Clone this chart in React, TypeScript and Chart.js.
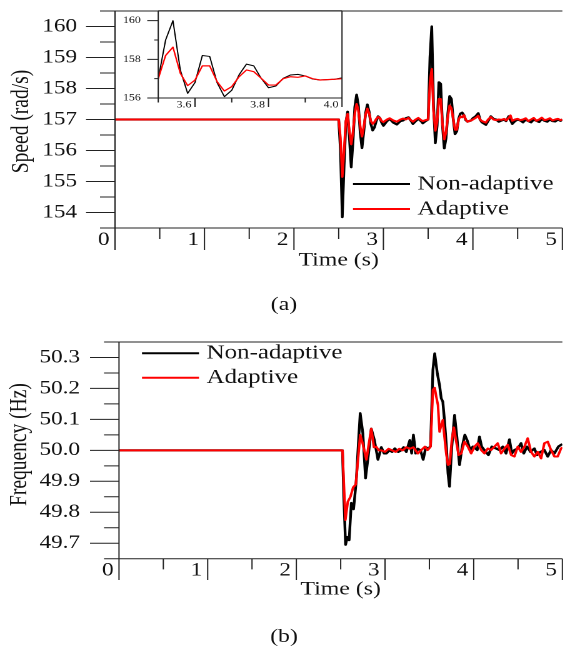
import React, { useEffect, useRef } from 'react';
import { Chart, registerables } from 'chart.js';

Chart.register(...registerables);

const FONT = "'Liberation Serif', 'Times New Roman', serif";
const STRETCH_X = 1.25;

// ---------- (a) Speed ----------
const speedTime = [
  0, 2.5, 2.52, 2.54, 2.56, 2.58, 2.6, 2.62, 2.64, 2.66, 2.68, 2.7, 2.72, 2.74, 2.76, 2.78, 2.8, 2.82, 2.84, 2.86,
  2.88, 2.9, 2.92, 2.94, 2.96, 2.98, 3.0, 3.04, 3.07, 3.11, 3.15, 3.19, 3.22, 3.25, 3.28, 3.31, 3.33, 3.36, 3.39,
  3.42, 3.44, 3.47, 3.5, 3.52, 3.54, 3.56, 3.58, 3.6, 3.62, 3.64, 3.66, 3.68, 3.7, 3.72, 3.74, 3.76, 3.78, 3.8,
  3.82, 3.84, 3.86, 3.88, 3.9, 3.92, 3.94, 3.96, 3.98, 4.0, 4.03, 4.06, 4.08, 4.1, 4.145, 4.17, 4.2, 4.23, 4.26,
  4.29, 4.32, 4.35, 4.37, 4.4, 4.42, 4.44, 4.47, 4.5, 4.53, 4.56, 4.59, 4.62, 4.65, 4.68, 4.71, 4.74, 4.77, 4.8,
  4.83, 4.86, 4.89, 4.92, 4.95, 4.98, 5.0,
];
const speedNonAdaptive = [
  157, 157, 156.0, 153.85, 155.5, 156.9, 157.25, 156.4, 155.46, 156.3, 157.4, 157.8, 157.45, 156.6, 156.08, 156.6,
  157.2, 157.48, 157.25, 156.85, 156.65, 156.75, 156.95, 157.1, 157.05, 156.9, 156.8, 156.95, 157.02, 156.9, 156.84,
  156.95, 156.97, 157.04, 157.07, 156.95, 156.86, 156.95, 157.02, 156.95, 156.88, 156.95, 157.0, 159.0, 160.0,
  157.45, 156.24, 156.8, 158.2, 158.15, 156.8, 156.07, 156.4, 157.2, 157.75, 157.66, 157.02, 156.53, 156.62, 157.02,
  157.19, 157.22, 157.14, 156.98, 156.93, 156.95, 156.97, 157.04, 157.1, 157.2, 157.0, 156.91, 156.83, 156.95, 157.1,
  157.02, 157.0, 156.93, 156.97, 157.0, 156.95, 157.1, 156.98, 156.86, 156.95, 157.0, 156.97, 156.91, 157.0, 156.95,
  156.91, 157.0, 156.96, 156.92, 157.02, 156.96, 156.93, 157.0, 156.95, 156.94, 157.0, 156.96, 157.0,
];
const speedAdaptive = [
  157, 157, 156.4, 155.15, 156.0, 156.95, 157.18, 156.6, 156.2, 156.6, 157.2, 157.5, 157.3, 156.8, 156.45, 156.75,
  157.15, 157.35, 157.2, 156.95, 156.86, 156.92, 157.02, 157.08, 157.05, 156.95, 156.92, 157.0, 157.04, 156.97,
  156.93, 157.0, 157.03, 157.0, 157.05, 156.97, 156.93, 157.0, 157.05, 156.98, 156.95, 156.98, 157.0, 158.2, 158.63,
  157.28, 156.64, 156.93, 157.66, 157.66, 156.85, 156.36, 156.59, 157.1, 157.45, 157.36, 157.02, 156.67, 156.67,
  157.0, 157.1, 157.07, 157.14, 157.0, 156.93, 156.95, 156.97, 157.0, 157.05, 157.12, 157.0, 156.95, 156.9, 157.0,
  157.08, 157.0, 156.98, 157.0, 156.99, 157.02, 156.97, 157.05, 157.13, 156.96, 157.0, 157.02, 156.98, 157.0, 157.04,
  156.95, 157.0, 157.05, 156.96, 157.0, 157.06, 156.98, 157.0, 157.04, 156.97, 157.0, 157.02, 156.98, 157.0,
];
const speedTicks = [154, 155, 156, 157, 158, 159, 160];
const speedMinorTicks = [153.5, 154.5, 155.5, 156.5, 157.5, 158.5, 159.5, 160.5];
const timeTicks = [0, 1, 2, 3, 4, 5];
const timeMinorTicks = [0.5, 1.5, 2.5, 3.5, 4.5];

// inset of (a)
const insetSpeedTicks = [156, 158, 160];
const insetSpeedMinorTicks = [157, 159];
const insetTimeTicks = [3.6, 3.8, 4.0];
const insetTimeMinorTicks = [3.5, 3.7, 3.9];

// ---------- (b) Frequency ----------
const freqTimeNonAdaptive = [
  0, 2.5, 2.52, 2.535, 2.555, 2.575, 2.595, 2.62, 2.645, 2.675, 2.695, 2.72, 2.75, 2.78, 2.81, 2.845, 2.88, 2.92,
  2.958, 2.99, 3.015, 3.05, 3.08, 3.11, 3.15, 3.18, 3.21, 3.24, 3.28, 3.3, 3.32, 3.345, 3.37, 3.4, 3.43, 3.46, 3.49,
  3.513, 3.54, 3.56, 3.59, 3.615, 3.634, 3.652, 3.67, 3.69, 3.71, 3.727, 3.753, 3.784, 3.81, 3.84, 3.87, 3.9, 3.93,
  3.96, 3.99, 4.02, 4.04, 4.065, 4.09, 4.12, 4.166, 4.204, 4.253, 4.29, 4.328, 4.365, 4.403, 4.43, 4.459, 4.497,
  4.534, 4.564, 4.602, 4.64, 4.684, 4.714, 4.752, 4.797, 4.835, 4.872, 4.91, 4.955, 4.985, 5.0,
];
const freqNonAdaptive = [
  50.0, 50.0, 50.0, 49.85, 49.695, 49.72, 49.71, 49.83, 49.81, 49.9, 50.0, 50.12, 50.055, 49.91, 49.98, 50.07,
  50.033, 49.97, 50.01, 49.99, 49.99, 50.0, 49.995, 50.006, 49.995, 50.0, 50.01, 49.995, 50.033, 49.99, 50.05,
  49.99, 50.005, 50.0, 49.97, 50.01, 50.005, 50.014, 50.26, 50.313, 50.248, 50.21, 50.168, 50.157, 50.098, 50.023,
  49.926, 49.883, 50.012, 50.114, 50.044, 49.953, 50.012, 50.05, 50.03, 50.0, 50.012, 50.006, 50.001, 50.044,
  50.012, 50.001, 49.985, 50.012, 50.006, 50.001, 50.012, 49.99, 50.035, 49.99, 50.001, 50.006, 50.023, 49.99,
  50.012, 49.995, 50.006, 49.985, 49.995, 50.001, 49.98, 50.001, 49.99, 50.012, 50.018, 50.02,
];
const freqTimeAdaptive = [
  0, 2.52, 2.534, 2.553, 2.58, 2.61, 2.64, 2.67, 2.695, 2.72, 2.75, 2.79, 2.83, 2.845, 2.875, 2.9, 2.93, 2.96, 3.0,
  3.04, 3.08, 3.12, 3.16, 3.2, 3.24, 3.28, 3.32, 3.37, 3.41, 3.45, 3.48, 3.513, 3.54, 3.56, 3.578, 3.597, 3.615,
  3.634, 3.652, 3.67, 3.69, 3.71, 3.73, 3.753, 3.776, 3.8, 3.83, 3.86, 3.896, 3.934, 3.971, 4.009, 4.046, 4.084,
  4.121, 4.159, 4.196, 4.234, 4.271, 4.309, 4.347, 4.384, 4.422, 4.459, 4.497, 4.534, 4.572, 4.609, 4.647, 4.684,
  4.722, 4.76, 4.797, 4.835, 4.872, 4.91, 4.947, 4.985, 5.0,
];
const freqAdaptive = [
  50.0, 50.0, 49.904, 49.775, 49.834, 49.85, 49.88, 49.89, 49.97, 50.05, 50.02, 49.97, 50.044, 50.07, 50.01, 50.012,
  50.0, 50.0, 49.995, 50.005, 50.0, 49.995, 50.005, 50.0, 50.01, 50.005, 50.01, 49.99, 50.001, 50.012, 50.001,
  50.012, 50.195, 50.202, 50.173, 50.146, 50.06, 50.082, 50.098, 50.044, 49.99, 49.953, 49.956, 50.033, 50.074,
  50.033, 49.985, 49.99, 50.028, 50.012, 49.99, 50.012, 50.023, 50.001, 49.99, 50.006, 50.001, 50.012, 50.023, 49.99,
  50.006, 50.018, 49.985, 49.98, 50.012, 49.995, 50.012, 50.039, 49.995, 49.98, 49.995, 49.974, 50.023, 50.028,
  50.001, 49.98, 49.98, 50.006, 50.01,
];
const freqTicks = [49.7, 49.8, 49.9, 50.0, 50.1, 50.2, 50.3];
const freqMinorTicks = [49.65, 49.75, 49.85, 49.95, 50.05, 50.15, 50.25, 50.35];

const seriesLabels = ['Non-adaptive', 'Adaptive'];
const seriesColors = ['#000000', '#ff0000'];

// ---------- helpers ----------
type Decor = {
  xMajor: number[];
  xMinor: number[];
  yMajor: number[];
  yMinor: number[];
  xMajorLen: number;
  xMinorLen: number;
  yMajorLen: number;
  yMinorLen: number;
  rightBorder?: boolean;
  fillArea?: boolean;
};

function decorPlugin(d: Decor) {
  return {
    id: 'axisDecor',
    beforeDraw(chart: any) {
      if (!d.fillArea) return;
      const { left, top, width, height } = chart.chartArea;
      const ctx = chart.ctx;
      ctx.save();
      ctx.fillStyle = '#ffffff';
      ctx.fillRect(left, top, width, height);
      ctx.restore();
    },
    afterDatasetsDraw(chart: any) {
      const { left, right, top, bottom } = chart.chartArea;
      const xs = chart.scales.x;
      const ys = chart.scales.y;
      const ctx = chart.ctx;
      ctx.save();
      ctx.strokeStyle = '#222';
      ctx.lineWidth = 1;
      ctx.beginPath();
      ctx.moveTo(left, top);
      ctx.lineTo(left, bottom);
      ctx.moveTo(left, bottom);
      ctx.lineTo(right, bottom);
      ctx.moveTo(left, top);
      ctx.lineTo(right, top);
      if (d.rightBorder) {
        ctx.moveTo(right, top);
        ctx.lineTo(right, bottom);
      }
      const yTick = (v: number, len: number) => {
        const y = ys.getPixelForValue(v);
        ctx.moveTo(left - len, y);
        ctx.lineTo(left, y);
      };
      const xTick = (v: number, len: number) => {
        const x = xs.getPixelForValue(v);
        ctx.moveTo(x, bottom);
        ctx.lineTo(x, bottom + len);
      };
      d.yMajor.forEach((v) => yTick(v, d.yMajorLen));
      d.yMinor.forEach((v) => yTick(v, d.yMinorLen));
      d.xMajor.forEach((v) => xTick(v, d.xMajorLen));
      d.xMinor.forEach((v) => xTick(v, d.xMinorLen));
      ctx.stroke();
      ctx.restore();
    },
  };
}

function yTitlePlugin(text: string, x: number, dy: number) {
  return {
    id: 'yTitle',
    afterDraw(chart: any) {
      const { top, bottom } = chart.chartArea;
      const ctx = chart.ctx;
      ctx.save();
      ctx.translate(x, (top + bottom) / 2 + dy);
      ctx.rotate(-Math.PI / 2);
      ctx.textAlign = 'center';
      ctx.textBaseline = 'middle';
      ctx.font = `19.5px ${FONT}`;
      ctx.fillStyle = '#111';
      ctx.fillText(text, 0, 0);
      ctx.restore();
    },
  };
}

function legendPlugin(dx: number, dy: number, gap: number) {
  return {
    id: 'innerLegend',
    afterDraw(chart: any) {
      const { left, top } = chart.chartArea;
      const ctx = chart.ctx;
      ctx.save();
      seriesLabels.forEach((label, i) => {
        const y = top + dy + i * gap;
        const x0 = left + dx;
        ctx.strokeStyle = seriesColors[i];
        ctx.lineWidth = 2;
        ctx.beginPath();
        ctx.moveTo(x0, y);
        ctx.lineTo(x0 + 45.6, y);
        ctx.stroke();
        ctx.fillStyle = '#111';
        ctx.font = `20px ${FONT}`;
        ctx.textAlign = 'left';
        ctx.textBaseline = 'middle';
        ctx.fillText(label, x0 + 51.6, y);
      });
      ctx.restore();
    },
  };
}

function datasets(tNA: number[], vNA: number[], tA: number[], vA: number[], wNA: number, wA: number) {
  return [
    {
      label: seriesLabels[1],
      data: tA.map((t, i) => ({ x: t, y: vA[i] })),
      borderColor: seriesColors[1],
      borderWidth: wA,
      pointRadius: 0,
      tension: 0,
      borderJoinStyle: 'round',
      order: 0,
    },
    {
      label: seriesLabels[0],
      data: tNA.map((t, i) => ({ x: t, y: vNA[i] })),
      borderColor: seriesColors[0],
      borderWidth: wNA,
      pointRadius: 0,
      tension: 0,
      borderJoinStyle: 'round',
      order: 1,
    },
  ];
}

type AxisCfg = {
  min: number;
  max: number;
  ticks: number[];
  fmt: (v: number) => string;
  size: number; // fixed width or height of the axis box
  fontSize: number;
  padding: number;
  labelOffset?: number;
  title?: { text: string; padBottom: number };
};

function axis(c: AxisCfg, horizontal: boolean) {
  return {
    type: 'linear',
    min: c.min,
    max: c.max,
    grid: { display: false, drawTicks: false },
    border: { display: false },
    afterBuildTicks: (s: any) => {
      s.ticks = c.ticks.map((v) => ({ value: v }));
    },
    afterFit: (s: any) => {
      if (horizontal) s.height = c.size;
      else s.width = c.size;
      // keep the plot area exactly where the layout padding puts it
      s.paddingTop = 0;
      s.paddingBottom = 0;
      s.paddingLeft = 0;
      s.paddingRight = 0;
    },
    ticks: {
      callback: (v: any) => c.fmt(Number(v)),
      font: { family: FONT, size: c.fontSize },
      color: '#111',
      padding: c.padding,
      labelOffset: c.labelOffset ?? 0,
      maxRotation: 0,
      minRotation: 0,
      autoSkip: false,
    },
    title: c.title
      ? {
          display: true,
          text: c.title.text,
          font: { family: FONT, size: 19 },
          color: '#111',
          padding: { top: 0, bottom: c.title.padBottom },
        }
      : { display: false },
  };
}

function baseOptions(padding: any, x: any, y: any) {
  return {
    responsive: true,
    maintainAspectRatio: false,
    animation: false,
    devicePixelRatio: 2,
    events: [],
    layout: { padding },
    plugins: { legend: { display: false }, tooltip: { enabled: false } },
    scales: { x, y },
  };
}

function speedConfig() {
  return {
    type: 'line',
    data: { datasets: datasets(speedTime, speedNonAdaptive, speedTime, speedAdaptive, 2.2, 2) },
    options: baseOptions(
      { top: 11, right: 1, left: 0, bottom: 0 },
      axis(
        {
          min: 0, max: 5, ticks: timeTicks, fmt: (v) => String(v), size: 72, fontSize: 18.5,
          padding: 0.9, labelOffset: -9, title: { text: 'Time (s)', padBottom: 28 },
        },
        true,
      ),
      axis({ min: 153.5, max: 160.5, ticks: speedTicks, fmt: (v) => String(v), size: 92, fontSize: 18.5, padding: 30.4 }, false),
    ),
    plugins: [
      decorPlugin({
        xMajor: timeTicks, xMinor: timeMinorTicks, yMajor: speedTicks, yMinor: speedMinorTicks,
        xMajorLen: 22, xMinorLen: 11, yMajorLen: 23.2, yMinorLen: 12,
      }),
      yTitlePlugin('Speed (rad/s)', 17.6, 2),
      legendPlugin(190.4, 173, 25),
    ],
  };
}

function insetConfig() {
  return {
    type: 'line',
    data: { datasets: datasets(speedTime, speedNonAdaptive, speedTime, speedAdaptive, 1, 1.2) },
    options: baseOptions(
      { top: 11, right: 6.4, left: 0, bottom: 0 },
      axis(
        { min: 3.5, max: 4.0, ticks: insetTimeTicks, fmt: (v) => v.toFixed(1), size: 17, fontSize: 9.5, padding: 1.3, labelOffset: -8.8 },
        true,
      ),
      axis({ min: 156, max: 160.5, ticks: insetSpeedTicks, fmt: (v) => String(v), size: 46.6, fontSize: 9.5, padding: 14 }, false),
    ),
    plugins: [
      decorPlugin({
        xMajor: insetTimeTicks, xMinor: insetTimeMinorTicks, yMajor: insetSpeedTicks, yMinor: insetSpeedMinorTicks,
        xMajorLen: 9, xMinorLen: 4.5, yMajorLen: 8.8, yMinorLen: 3.2, rightBorder: true, fillArea: true,
      }),
    ],
  };
}

function freqConfig() {
  return {
    type: 'line',
    data: { datasets: datasets(freqTimeNonAdaptive, freqNonAdaptive, freqTimeAdaptive, freqAdaptive, 2.2, 2) },
    options: baseOptions(
      { top: 22, right: 0.6, left: 0, bottom: 0 },
      axis(
        {
          min: 0, max: 5, ticks: timeTicks, fmt: (v) => String(v), size: 89.3, fontSize: 18.5,
          padding: 0.8, labelOffset: -9, title: { text: 'Time (s)', padBottom: 47 },
        },
        true,
      ),
      axis({ min: 49.65, max: 50.35, ticks: freqTicks, fmt: (v) => v.toFixed(1), size: 95.2, fontSize: 18.5, padding: 31.2 }, false),
    ),
    plugins: [
      decorPlugin({
        xMajor: timeTicks, xMinor: timeMinorTicks, yMajor: freqTicks, yMinor: freqMinorTicks,
        xMajorLen: 21.3, xMinorLen: 10.7, yMajorLen: 23.2, yMinorLen: 12,
      }),
      yTitlePlugin('Frequency (Hz)', 16, -5.8),
      legendPlugin(18.4, 11.3, 24.4),
    ],
  };
}

function ChartBox({ make, box }: { make: () => any; box: React.CSSProperties }) {
  const ref = useRef<HTMLCanvasElement | null>(null);
  useEffect(() => {
    const chart = new Chart(ref.current as HTMLCanvasElement, make());
    return () => chart.destroy();
  }, []);
  return (
    <div style={{ position: 'absolute', ...box }}>
      <canvas ref={ref} style={{ display: 'block' }} />
    </div>
  );
}

const captionStyle: React.CSSProperties = {
  position: 'absolute',
  left: 177.2,
  width: 100,
  textAlign: 'center',
  fontFamily: FONT,
  fontSize: 19,
  lineHeight: '19px',
  color: '#111',
};

export default function App() {
  return (
    <div style={{ position: 'fixed', left: 0, top: 0, width: 563, height: 648, overflow: 'hidden', background: '#fff' }}>
      <div
        style={{
          position: 'absolute',
          left: 0,
          top: 0,
          width: 451,
          height: 648,
          transform: `scaleX(${STRETCH_X})`,
          transformOrigin: '0 0',
        }}
      >
        <ChartBox make={speedConfig} box={{ left: 0, top: 0, width: 451, height: 300 }} />
        <ChartBox make={insetConfig} box={{ left: 80, top: 0, width: 200, height: 115 }} />
        <div style={{ ...captionStyle, top: 293.6 }}>(a)</div>
        <ChartBox make={freqConfig} box={{ left: 0, top: 320, width: 451, height: 328 }} />
        <div style={{ ...captionStyle, top: 626 }}>(b)</div>
      </div>
    </div>
  );
}
